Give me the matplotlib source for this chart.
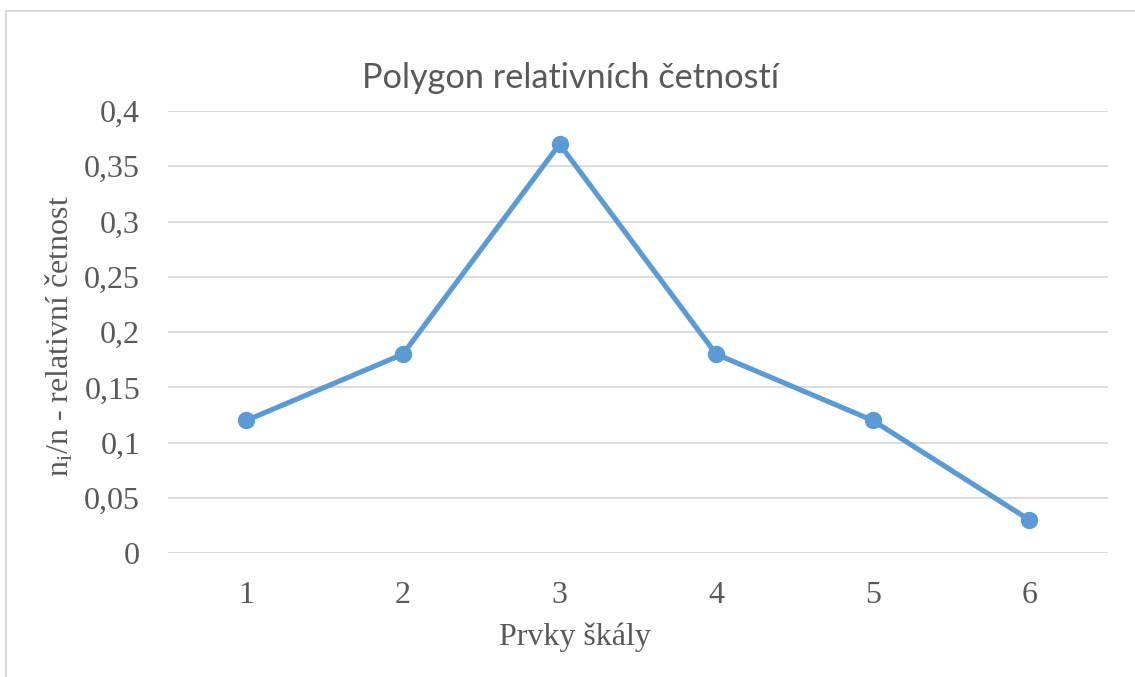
import matplotlib
matplotlib.use("Agg")
import matplotlib.pyplot as plt
from matplotlib.ticker import FuncFormatter

# data
prvky = [1, 2, 3, 4, 5, 6]
cetnost = [0.12, 0.18, 0.37, 0.18, 0.12, 0.03]

plt.rcParams['mathtext.fontset'] = 'custom'
plt.rcParams['mathtext.rm'] = 'Liberation Serif'
plt.rcParams['mathtext.it'] = 'Liberation Serif'

seda = "#595959"
modra = "#5b9bd5"

fig = plt.figure(figsize=(11.35, 6.77), dpi=100)
ax = fig.add_axes([0.148, 0.183, 0.828, 0.653])

# ramecek grafu
fig.patches.append(plt.Rectangle((6 / 1135, -0.01), 1.1, 1 - 11 / 677 + 0.01,
                                 transform=fig.transFigure, fill=False,
                                 edgecolor="#d9d9d9", linewidth=1.5))

ax.plot(prvky, cetnost, color=modra, linewidth=3.7, marker="o",
        markersize=11.5, solid_capstyle="round", zorder=3)

ax.set_xlim(0.5, 6.5)
ax.set_ylim(0, 0.4)
ax.set_xticks(prvky)
ax.set_yticks([0, 0.05, 0.1, 0.15, 0.2, 0.25, 0.3, 0.35, 0.4])
ax.yaxis.set_major_formatter(FuncFormatter(lambda v, p: ("%g" % round(v, 2)).replace(".", ",")))

ax.grid(axis="y", color="#d9d9d9", linewidth=1.3)
ax.set_axisbelow(True)
for s in ax.spines.values():
    s.set_visible(False)
ax.tick_params(length=0, labelsize=23, labelcolor=seda, pad=20)
for lab in ax.get_xticklabels() + ax.get_yticklabels():
    lab.set_family("Liberation Serif")

ax.set_xlabel("Prvky škály", fontsize=23, color=seda, family="Liberation Serif", va="center")
ax.set_ylabel(r"n$_\mathrm{i}$/n - relativní četnost", fontsize=23, color=seda,
              family="Liberation Serif", va="center")
ax.xaxis.set_label_coords(0.433, -0.19)
ax.yaxis.set_label_coords(-0.115, 0.49)

fig.text(0.503, 0.885, "Polygon relativních četností", fontsize=24.7, color=seda,
         family="Lato", ha="center", va="center")

fig.savefig("out.png", dpi=100)
